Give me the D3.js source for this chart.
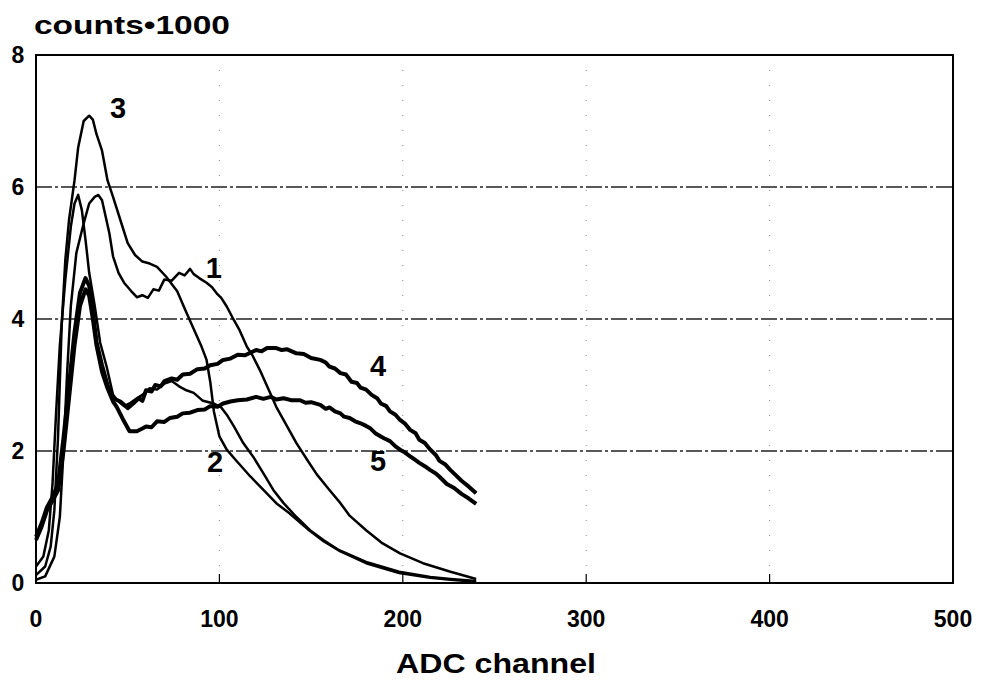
<!DOCTYPE html>
<html>
<head>
<meta charset="utf-8">
<script src="https://cdn.jsdelivr.net/npm/d3@7"></script>
<style>
  body { margin: 0; background: #fff; }
  svg text { font-family: "Liberation Sans", Arial, sans-serif; font-weight: bold; fill: #000; }
</style>
</head>
<body>
<svg id="mainsvg" width="991" height="682"></svg>
<script>
// spectra: [ADC channel, counts/1000]
var curve1 = [[0,0.05],[5,0.1],[10,0.4],[13,1.0],[15,2.0],[17,3.2],[19,4.2],[22,5.0],[26,5.45],[29,5.75],[32,5.85],
  [34,5.88],[36,5.8],[38,5.55],[40,5.3],[42,4.95],[45,4.7],[48,4.55],[52,4.42],[55,4.33],[58,4.36],[61,4.32],[64,4.45],
  [67,4.43],[70,4.6],[74,4.58],[78,4.7],[81,4.66],[84,4.76],[86,4.68],[89,4.62],[93,4.55],[96,4.48],[98.5,4.39],
  [101,4.32],[104,4.19],[107,4.03],[111,3.83],[115,3.58],[118,3.45],[122,3.23],[127,2.92],[131,2.67],[137,2.37],
  [142,2.12],[148,1.86],[153,1.65],[160,1.41],[166,1.21],[171,1.02],[180,0.8],[189,0.6],[198.5,0.45],[211,0.3],
  [226,0.17],[240,0.06]];

var curve2 = [[0,0.25],[4,0.4],[7,0.8],[9,1.5],[11,2.6],[13,3.6],[16,4.6],[19,5.4],[21,5.75],[23,5.88],[25,5.65],
  [27,5.2],[29,4.7],[32,4.2],[35,3.64],[38.5,3.28],[42,2.85],[45,2.75],[48,2.68],[51,2.72],[55,2.8],[58,2.85],
  [62,2.95],[66,2.93],[70,3.02],[74,3.06],[78,2.98],[82,2.92],[86,2.88],[91,2.76],[97,2.72],[101,2.66],[104,2.55],
  [108,2.37],[113,2.12],[118.5,1.91],[124,1.66],[129.4,1.41],[135,1.21],[142,1.0],[149.4,0.8],[156.7,0.65],
  [165,0.5],[180,0.32],[198,0.17],[215,0.09],[226,0.06],[240,0.03]];

var curve3 = [[0,0.12],[5,0.25],[8,0.55],[10,1.1],[12,2.2],[14,3.9],[16,4.9],[18,5.5],[21,6.1],[23,6.6],[26,7.0],
  [29,7.08],[31,7.02],[33,6.8],[36,6.55],[39,6.1],[42,5.85],[46,5.5],[50,5.15],[54,4.97],[58,4.87],[62,4.84],
  [66,4.79],[71,4.64],[77,4.42],[82,4.1],[86,3.85],[90,3.6],[93,3.38],[95,3.05],[97,2.6],[100,2.22],[104,2.02],
  [109,1.86],[117,1.61],[124,1.41],[131,1.21],[138,1.06],[148,0.82],[157,0.63],[166,0.48],[180,0.3],[198,0.15],
  [215,0.08],[226,0.05],[240,0.02]];

var curve4 = [[0,0.7],[3,0.9],[6,1.15],[9,1.3],[12,1.5],[15,2.2],[18,3.0],[21,3.8],[24,4.4],[27,4.62],[29,4.5],
  [31,4.1],[33,3.65],[36,3.3],[39,3.0],[42,2.8],[46,2.75],[50,2.65],[53,2.72],[56,2.8],[58,2.76],[60,2.92],
  [63,2.9],[65,3.0],[68,2.98],[70,3.06],[74,3.1],[77,3.08],[80,3.16],[84,3.17],[88,3.24],[92,3.25],[95,3.3],
  [99,3.32],[102,3.38],[106,3.4],[110,3.46],[114,3.45],[120,3.53],[123,3.51],[126,3.56],[131,3.56],[134,3.53],
  [137,3.54],[142,3.48],[146,3.47],[150,3.41],[155,3.38],[158,3.34],[160,3.28],[163,3.25],[166,3.18],[169,3.16],
  [172,3.05],[175,3.03],[177,2.96],[180,2.93],[183,2.85],[186,2.8],[188,2.72],[191,2.68],[193,2.6],[196,2.55],
  [198.5,2.47],[201,2.42],[204,2.32],[207,2.27],[209,2.17],[212,2.12],[215,2.02],[218,1.94],[220,1.85],
  [223,1.8],[226,1.71],[229,1.63],[232,1.55],[236,1.46],[240,1.36]];

var curve5 = [[0,0.65],[3,0.85],[6,1.1],[9,1.25],[12,1.4],[15,2.0],[18,2.8],[21,3.6],[24,4.2],[27,4.45],[29,4.35],
  [31,4.0],[33,3.6],[36,3.2],[39,2.95],[42,2.75],[44,2.67],[48,2.45],[51,2.3],[55,2.3],[58,2.34],[60,2.37],
  [63,2.36],[66,2.45],[70,2.44],[73,2.5],[77,2.52],[80,2.57],[84,2.58],[88,2.62],[92,2.63],[95,2.68],[99,2.67],
  [102,2.72],[106,2.75],[110,2.77],[115,2.78],[120,2.82],[124,2.79],[128,2.82],[131,2.78],[135,2.8],[139,2.77],
  [144,2.77],[147,2.73],[150,2.74],[155,2.7],[158,2.64],[160,2.66],[163,2.6],[166,2.57],[168,2.52],[171,2.5],
  [174,2.45],[177,2.42],[180,2.38],[182,2.35],[185,2.27],[188,2.22],[190,2.19],[193,2.15],[196,2.07],
  [198.5,2.02],[201,1.98],[204,1.92],[207,1.86],[209,1.82],[212,1.77],[215,1.71],[218,1.66],[220,1.61],
  [224,1.5],[228,1.44],[232,1.35],[236,1.28],[240,1.2]];

var curves = [curve1, curve2, curve3, curve4, curve5];
var curveWidth = [2.5, 2.5, 2.5, 4, 4];

var curveLabels = [
  { name: "3", x: 44.7, y: 7.2 },
  { name: "1", x: 97, y: 4.77 },
  { name: "4", x: 186.5, y: 3.29 },
  { name: "5", x: 186.5, y: 1.85 },
  { name: "2", x: 97.6, y: 1.83 }
];

var xTicks = [0, 100, 200, 300, 400, 500];
var yTicks = [0, 2, 4, 6, 8];

var svg = d3.select("#mainsvg");
var plotLeft = 36, plotTop = 55, plotRight = 953, plotBottom = 583;

var x = d3.scaleLinear().domain([0, 500]).range([plotLeft, plotRight]);
var y = d3.scaleLinear().domain([0, 8]).range([plotBottom, plotTop]);

// grid
svg.append("g")
  .selectAll("line")
  .data(yTicks.filter(function (d) { return d > 0 && d < 8; }))
  .enter()
  .append("line")
  .attr("x1", plotLeft).attr("x2", plotRight)
  .attr("y1", function (d) { return y(d); })
  .attr("y2", function (d) { return y(d); })
  .attr("stroke", "#222")
  .attr("stroke-width", 1.3)
  .attr("stroke-dasharray", "16,3,3,3");

svg.append("g")
  .selectAll("line")
  .data(xTicks.filter(function (d) { return d > 0 && d < 500; }))
  .enter()
  .append("line")
  .attr("x1", function (d) { return x(d); })
  .attr("x2", function (d) { return x(d); })
  .attr("y1", plotTop).attr("y2", plotBottom)
  .attr("stroke", "#888")
  .attr("stroke-width", 1)
  .attr("stroke-dasharray", "1,14");

// small ticks on the bottom edge
svg.append("g")
  .selectAll("line")
  .data(xTicks.filter(function (d) { return d > 0 && d < 500; }))
  .enter()
  .append("line")
  .attr("x1", function (d) { return x(d); })
  .attr("x2", function (d) { return x(d); })
  .attr("y1", plotBottom).attr("y2", plotBottom - 9)
  .attr("stroke", "#000")
  .attr("stroke-width", 1.2);

// frame
svg.append("rect")
  .attr("x", plotLeft).attr("y", plotTop)
  .attr("width", plotRight - plotLeft).attr("height", plotBottom - plotTop)
  .attr("fill", "none")
  .attr("stroke", "#000")
  .attr("stroke-width", 2);

// curves
var line = d3.line()
  .x(function (d) { return x(d[0]); })
  .y(function (d) { return y(d[1]); })
  .curve(d3.curveLinear);

svg.append("g")
  .selectAll("path")
  .data(curves)
  .enter()
  .append("path")
  .attr("d", function (d) { return line(d); })
  .attr("fill", "none")
  .attr("stroke", "#000")
  .attr("stroke-linejoin", "round")
  .attr("stroke-width", function (d, i) { return curveWidth[i]; });

// curve numbers
svg.append("g")
  .selectAll("text")
  .data(curveLabels)
  .enter()
  .append("text")
  .attr("x", function (d) { return x(d.x); })
  .attr("y", function (d) { return y(d.y); })
  .attr("text-anchor", "middle")
  .attr("dominant-baseline", "central")
  .attr("font-size", 29)
  .text(function (d) { return d.name; });

// tick labels
svg.append("g")
  .selectAll("text")
  .data(xTicks)
  .enter()
  .append("text")
  .attr("x", function (d) { return x(d); })
  .attr("y", 627)
  .attr("text-anchor", "middle")
  .attr("font-size", 23)
  .text(function (d) { return d; });

svg.append("g")
  .selectAll("text")
  .data(yTicks)
  .enter()
  .append("text")
  .attr("x", 18)
  .attr("y", function (d) { return y(d) + 8; })
  .attr("text-anchor", "middle")
  .attr("font-size", 23)
  .text(function (d) { return d; });

// titles
svg.append("text")
  .attr("x", 34).attr("y", 34)
  .attr("font-size", 26)
  .attr("textLength", 196)
  .attr("lengthAdjust", "spacingAndGlyphs")
  .text("counts\u20221000");

svg.append("text")
  .attr("x", 396).attr("y", 673)
  .attr("font-size", 28)
  .attr("textLength", 200)
  .attr("lengthAdjust", "spacingAndGlyphs")
  .text("ADC channel");
</script>
</body>
</html>
